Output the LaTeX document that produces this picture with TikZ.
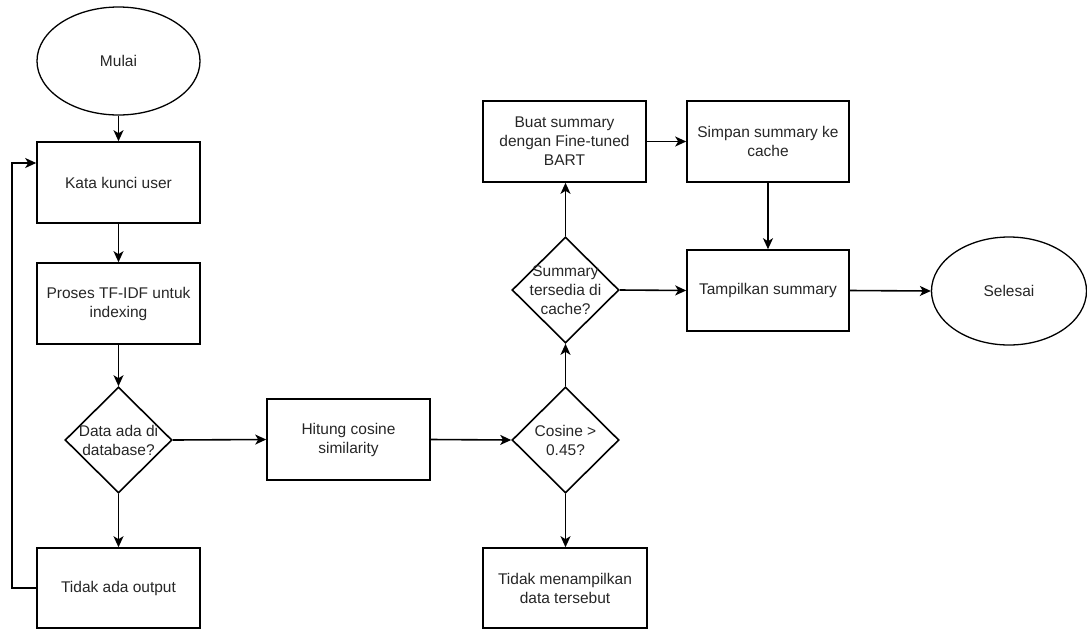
\documentclass[tikz,border=0pt]{standalone}
\usepackage{fontspec}
\setmainfont{Liberation Sans}
\usetikzlibrary{shapes.geometric,arrows.meta}
\begin{document}
\begin{tikzpicture}[x=1pt,y=-1pt,
  txt/.style={text=black!85, align=center, font=\fontsize{15.5}{19}\selectfont},
  box/.style={txt, draw=black, line width=1.6pt, minimum width=163pt, minimum height=81pt, inner sep=0pt},
  oval/.style={txt, draw=black, line width=1.3pt, ellipse, inner sep=0pt},
  dia/.style={draw=black, line width=1.6pt, diamond, inner sep=0pt, minimum width=107pt, minimum height=106pt},
  arr/.style={draw=black, line width=1.6pt, -{Stealth[length=11pt,width=10pt,inset=3pt]}}
]
\useasboundingbox (0,0) rectangle (1087,630);
% nodes
\node[oval, minimum width=163pt, minimum height=108pt] (mulai) at (118.5,61) {Mulai};
\node[box] (kata) at (118.5,182.5) {Kata kunci user};
\node[box] (proses) at (118.5,303.5) {Proses TF-IDF untuk\\indexing};
\node[dia] (d1) at (118.5,440) {};
\node[txt] (d1t) at (d1.center) {Data ada di\\database?};
\node[box, minimum height=80pt] (tidak) at (118.5,588) {Tidak ada output};
\node[box] (hitung) at (348.5,439.5) {Hitung cosine\\similarity};
\node[dia] (d2) at (565.5,440) {};
\node[txt] (d2t) at (d2.center) {Cosine >\\0.45?};
\node[box, minimum width=164pt, minimum height=80pt] (tm) at (565,588) {Tidak menampilkan\\data tersebut};
\node[dia] (d3) at (565.5,290) {};
\node[txt] (d3t) at (d3.center) {Summary\\tersedia di\\cache?};
\node[box] (buat) at (564.5,141.5) {Buat summary\\dengan Fine-tuned\\BART};
\node[box, minimum width=162pt] (simpan) at (768,141.5) {Simpan summary ke\\cache};
\node[box, minimum width=162pt] (tampil) at (768,290.5) {Tampilkan summary};
\node[oval, minimum width=155pt, minimum height=108pt] (selesai) at (1009,291) {Selesai};
\coordinate (fbx) at (12,0);
% connectors
\draw[arr] (mulai.south) -- (kata.north);
\draw[arr] (kata.south) -- (proses.north);
\draw[arr] (proses.south) -- (d1.north);
\draw[arr] (d1.south) -- (tidak.north);
\draw[arr] (d1.east) -- (hitung.west);
\draw[arr] (tidak.west) -- (tidak.west -| fbx) |- ([yshift=19.5pt]kata.west);
\draw[arr] (hitung.east) -- (d2.west);
\draw[arr] (d2.south) -- (tm.north -| d2.south);
\draw[arr] (d2.north) -- (d3.south);
\draw[arr] (d3.north) -- (buat.south -| d3.north);
\draw[arr] (buat.east) -- (simpan.west);
\draw[arr] (simpan.south) -- (tampil.north);
\draw[arr] (d3.east) -- (tampil.west);
\draw[arr] (tampil.east) -- (selesai.west);
\end{tikzpicture}
\end{document}
